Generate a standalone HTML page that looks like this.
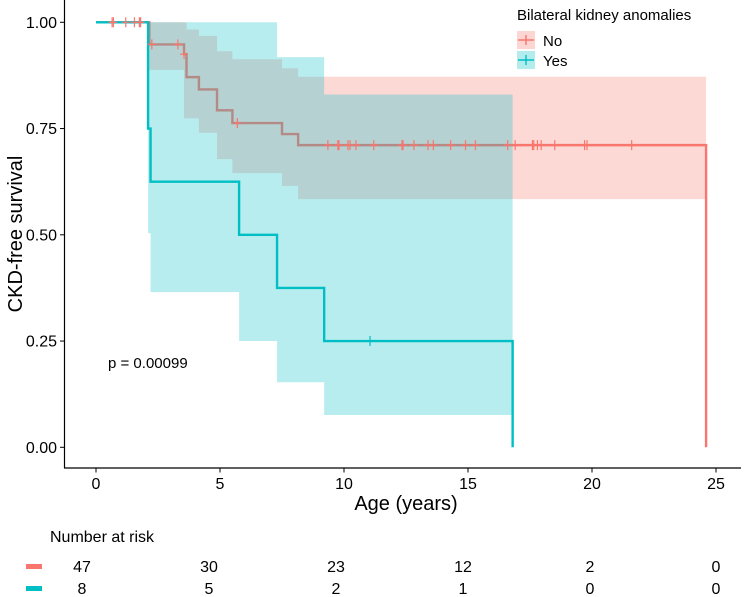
<!DOCTYPE html>
<html><head><meta charset="utf-8"><style>
body{margin:0;background:#fff}
svg{display:block;font-family:"Liberation Sans",Arial,sans-serif}
</style></head><body>
<svg id="chart" width="749" height="597" viewBox="0 0 749 597">
<g id="plot"></g>
<g id="axes"></g>
</svg>
<script>
const noTimes=[0,2.15,3.55,3.65,4.15,4.88,5.5,7.5,8.15];
const noSurv=[1,0.948,0.925,0.871,0.842,0.793,0.763,0.737,0.711];
const noUpper=[1,1,1,0.983,0.968,0.932,0.913,0.892,0.872];
const noLower=[1,0.888,0.774,0.774,0.74,0.678,0.645,0.615,0.584];
const noEnd=24.6;
const noCensor=[0.65,0.7,1.2,1.55,1.75,1.8,2.25,3.3,3.55,5.7,9.35,9.75,9.8,10.16,10.24,10.48,11.2,12.34,12.38,12.82,13.39,13.6,14.3,14.9,15.3,16.6,16.9,17.6,17.65,17.8,17.95,18.5,19.7,19.8,21.6];
const yesTimes=[0,2.1,2.2,5.77,7.3,9.2];
const yesSurv=[1,0.75,0.625,0.5,0.375,0.25];
const yesUpper=[1,1,1,1,0.918,0.83];
const yesLower=[1,0.504,0.365,0.25,0.153,0.076];
const yesEnd=16.8;
const yesCensor=[11.05];
const xTicks=[0,5,10,15,20,25];
const yTicks=[0,0.25,0.5,0.75,1];
const riskNo=[47,30,23,12,2,0];
const riskYes=[8,5,2,1,0,0];

const RED="#F8766D",TEAL="#00BFC4";
const X=t=>96+t*24.8;
const Y=v=>447.3-v*425;
const NS="http://www.w3.org/2000/svg";
const plot=document.getElementById('plot'),axes=document.getElementById('axes');
function mk(tag,attrs,parent){const e=document.createElementNS(NS,tag);for(const k in attrs)e.setAttribute(k,attrs[k]);parent.appendChild(e);return e;}

function ribbon(times,up,lo,end,color,name){
  let top=[],bot=[];
  for(let i=0;i<times.length;i++){const t0=X(times[i]),t1=X(i+1<times.length?times[i+1]:end);
    top.push(t0+","+Y(up[i]),t1+","+Y(up[i]));bot.push(t0+","+Y(lo[i]),t1+","+Y(lo[i]));}
  bot.reverse();
  const p=mk('polygon',{points:top.concat(bot).join(" "),fill:color,'fill-opacity':0.28},plot);
  
  
}
function step(times,surv,end,color,name){
  let d="M"+X(times[0])+","+Y(surv[0]);
  for(let i=1;i<times.length;i++){d+=" H"+X(times[i])+" V"+Y(surv[i]);}
  d+=" H"+X(end)+" V"+Y(0);
  const p=mk('path',{d:d,fill:"none",stroke:color,'stroke-width':2.4},plot);
  
  
}
function survAt(times,surv,t){let s=surv[0];for(let i=0;i<times.length;i++)if(times[i]<=t)s=surv[i];return s;}
function censors(list,times,surv,color,name){
  list.forEach(t=>{const x=X(t),y=Y(survAt(times,surv,t));
    const p=mk('path',{d:`M${x},${y-5}V${y+5}M${x-4},${y}H${x+4}`,stroke:color,'stroke-width':1.2},plot);
    
    });
}
ribbon(noTimes,noUpper,noLower,noEnd,RED,'ci-band-no');
step(noTimes,noSurv,noEnd,RED,'curve-no');
ribbon(yesTimes,yesUpper,yesLower,yesEnd,TEAL,'ci-band-yes');
step(yesTimes,yesSurv,yesEnd,TEAL,'curve-yes');
censors(noCensor,noTimes,noSurv,RED,'censor-mark-no');
censors(yesCensor,yesTimes,yesSurv,TEAL,'censor-mark-yes');

mk('line',{x1:64.5,y1:0,x2:64.5,y2:468,stroke:"#000",'stroke-width':1.2},axes);
mk('line',{x1:64,y1:468,x2:741,y2:468,stroke:"#000",'stroke-width':1.2},axes);
yTicks.forEach(v=>{mk('line',{x1:60,x2:64.5,y1:Y(v),y2:Y(v),stroke:"#000"},axes);
  const t=mk('text',{x:57,y:Y(v)+5.5,'text-anchor':'end','font-size':16,fill:'#000'},axes);t.textContent=v.toFixed(2);
  
  });
xTicks.forEach(v=>{mk('line',{x1:X(v),x2:X(v),y1:468,y2:472.5,stroke:"#000"},axes);
  const t=mk('text',{x:X(v),y:489,'text-anchor':'middle','font-size':16,fill:'#000'},axes);t.textContent=v;
  
  });
const colX=[82,209,336,463,590,716];
riskNo.forEach((v,i)=>{const t=mk('text',{x:colX[i],y:572,'text-anchor':'middle','font-size':16,fill:'#000'},axes);t.textContent=v;
  
  });
riskYes.forEach((v,i)=>{const t=mk('text',{x:colX[i],y:594,'text-anchor':'middle','font-size':16,fill:'#000'},axes);t.textContent=v;
  
  });
</script>
<svg style="position:absolute;left:0;top:0" width="749" height="597">
<text x="15" y="234" transform="rotate(-90 15 234)" dy="7" text-anchor="middle" font-size="20" font-family="Liberation Sans,sans-serif">CKD-free survival</text>
<text x="406" y="510" text-anchor="middle" font-size="20" font-family="Liberation Sans,sans-serif">Age (years)</text>
<text x="108" y="368" font-size="15" font-family="Liberation Sans,sans-serif">p = 0.00099</text>
<g font-family="Liberation Sans,sans-serif">
<text x="517" y="20" font-size="15">Bilateral kidney anomalies</text>
<g>
<rect x="517" y="31" width="18" height="18" fill="#F8766D" fill-opacity="0.3"/>
<path d="M518,40H534M526,35V45" stroke="#F8766D" stroke-width="1.4"/>
<text x="543" y="46" font-size="15">No</text></g>
<g>
<rect x="517" y="51" width="18" height="18" fill="#00BFC4" fill-opacity="0.3"/>
<path d="M518,60H534M526,55V65" stroke="#00BFC4" stroke-width="1.4"/>
<text x="543" y="66" font-size="15">Yes</text></g>
</g>
<text x="50" y="542" font-size="16" font-family="Liberation Sans,sans-serif">Number at risk</text>
<rect x="26" y="564" width="16" height="5" fill="#F8766D"/>
<rect x="26" y="586" width="16" height="5" fill="#00BFC4"/>
</svg>
</body></html>
